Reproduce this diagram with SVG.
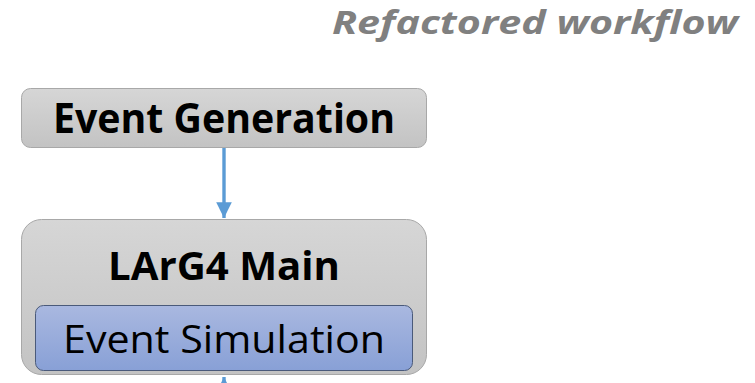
<svg xmlns="http://www.w3.org/2000/svg" width="755" height="383" viewBox="0 0 755 383">
<defs>
<linearGradient id="gray" x1="0" y1="0" x2="0" y2="1"><stop offset="0" stop-color="#d6d6d6"/><stop offset="1" stop-color="#c3c3c3"/></linearGradient>
<linearGradient id="blue" x1="0" y1="0" x2="0" y2="1"><stop offset="0" stop-color="#a9b8e0"/><stop offset="1" stop-color="#88a0d6"/></linearGradient>
<marker id="ah" viewBox="0 0 10 10" refX="10" refY="5" markerWidth="4.6" markerHeight="4.6" orient="auto" markerUnits="strokeWidth"><path d="M0,0 L10,5 L0,10 z" fill="#5b9bd5"/></marker>
</defs>
<style>
.box{fill:url(#gray);stroke:#a8a8a8;stroke-width:1}
.inner{fill:url(#blue);stroke:#4a5a7a;stroke-width:1}
.b{font-family:"Open Sans","Liberation Sans",sans-serif;font-weight:bold;fill:#000;text-anchor:middle}
.r{font-family:"Open Sans","Liberation Sans",sans-serif;fill:#000;text-anchor:middle}
.conn{stroke:#5b9bd5;stroke-width:3.4;fill:none;marker-end:url(#ah)}
</style>
<text x="535" y="34" font-family="Open Sans, Liberation Sans, sans-serif" font-weight="bold" font-style="italic" font-size="32" fill="#808080" text-anchor="middle" textLength="406" lengthAdjust="spacingAndGlyphs">Refactored workflow</text>
<g id="event-generation">
<rect class="box" x="21.5" y="88.5" width="405" height="59" rx="9"/>
<text class="b" x="224" y="133" font-size="41" textLength="342" lengthAdjust="spacingAndGlyphs">Event Generation</text>
</g>
<g id="larg4-main">
<rect class="box" x="21.5" y="219.5" width="405" height="155" rx="20"/>
<text class="b" x="224" y="280" font-size="39" textLength="232" lengthAdjust="spacingAndGlyphs">LArG4 Main</text>
</g>
<g id="event-simulation">
<rect class="inner" x="35.5" y="305.5" width="377" height="65" rx="8"/>
<text class="r" x="224" y="353" font-size="39" textLength="322" lengthAdjust="spacingAndGlyphs">Event Simulation</text>
</g>
<g id="connectors">
<line class="conn" x1="224" y1="148" x2="224" y2="218"/>
<line class="conn" x1="224" y1="395" x2="224" y2="377"/>
</g>
</svg>
